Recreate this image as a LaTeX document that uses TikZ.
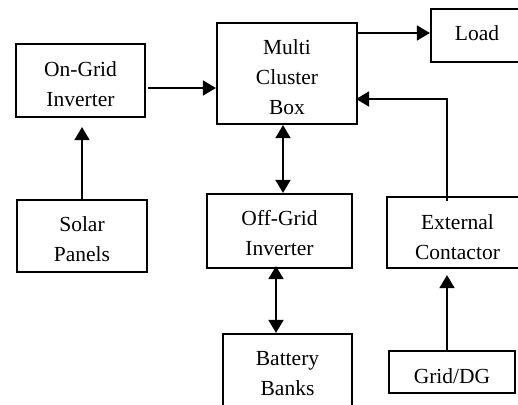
\documentclass[tikz,border=0pt]{standalone}
\usepackage{fontspec}
\setmainfont{Liberation Serif}
\usetikzlibrary{arrows.meta,calc}
\begin{document}
\begin{tikzpicture}[x=1pt,y=-1pt,
  blk/.style={draw,line width=2.2pt,inner sep=0pt,align=center,
    font=\fontsize{21.5}{30}\selectfont},
  tip/.tip={Triangle[length=13pt,width=15pt]},
  arr/.style={line width=1.7pt,-tip},
  biarr/.style={line width=1.7pt,tip-tip}]
\useasboundingbox (0,0) rectangle (518,404);
\clip (0,0) rectangle (518,404);
\node[blk,text height=52.7pt,minimum width=129pt,minimum height=73pt] (OnGrid) at (80.5,80.5) {On-Grid\\Inverter};
\node[blk,text height=82.7pt,minimum width=140pt,minimum height=101pt] (MCB) at (287,73.5) {Multi\\Cluster\\Box};
\node[blk,text depth=5pt,minimum width=92pt,minimum height=53pt] (Load) at (477,35.5) {Load};
\node[blk,text height=51.7pt,minimum width=130pt,minimum height=72pt] (Solar) at (82,236) {Solar\\Panels};
\node[blk,text height=48.7pt,minimum width=145pt,minimum height=74pt] (OffGrid) at (279.5,231) {Off-Grid\\Inverter};
\node[blk,text height=53.7pt,minimum width=141pt,minimum height=71pt] (External) at (457.5,232.5) {External\\Contactor};
\node[blk,text height=47.7pt,minimum width=129pt,minimum height=76pt] (Battery) at (287.5,372) {Battery\\Banks};
\node[blk,text height=22.7pt,minimum width=126pt,minimum height=42pt] (GridDG) at (452,372) {Grid/DG};
% connectors
\coordinate (o1) at ($(OnGrid.east)+(2,7.5)$);
\draw[arr] (o1) -- (o1 -| MCB.west);
\coordinate (m1) at ($(MCB.east)+(0,-40.5)$);
\draw[arr] (m1) -- (m1 -| Load.west);
\coordinate (s1) at ($(Solar.north |- OnGrid.south)+(0,9)$);
\draw[arr] (Solar.north) -- (s1);
\coordinate (c1) at ($(MCB.south)+(-4,0)$);
\draw[biarr] (c1) -- (c1 |- OffGrid.north);
\coordinate (c2) at ($(OffGrid.south)+(-3.5,-3)$);
\draw[biarr] (c2) -- (c2 |- Battery.north);
\coordinate (e1) at ($(External.north)+(-10.5,5)$);
\coordinate (m2) at ($(MCB.east)+(-2,25.5)$);
\draw[arr] (e1) |- (m2);
\coordinate (g1) at ($(GridDG.north)+(-5,0)$);
\coordinate (g2) at ($(g1 |- External.south)+(0,6)$);
\draw[arr] (g1) -- (g2);
\end{tikzpicture}
\end{document}
